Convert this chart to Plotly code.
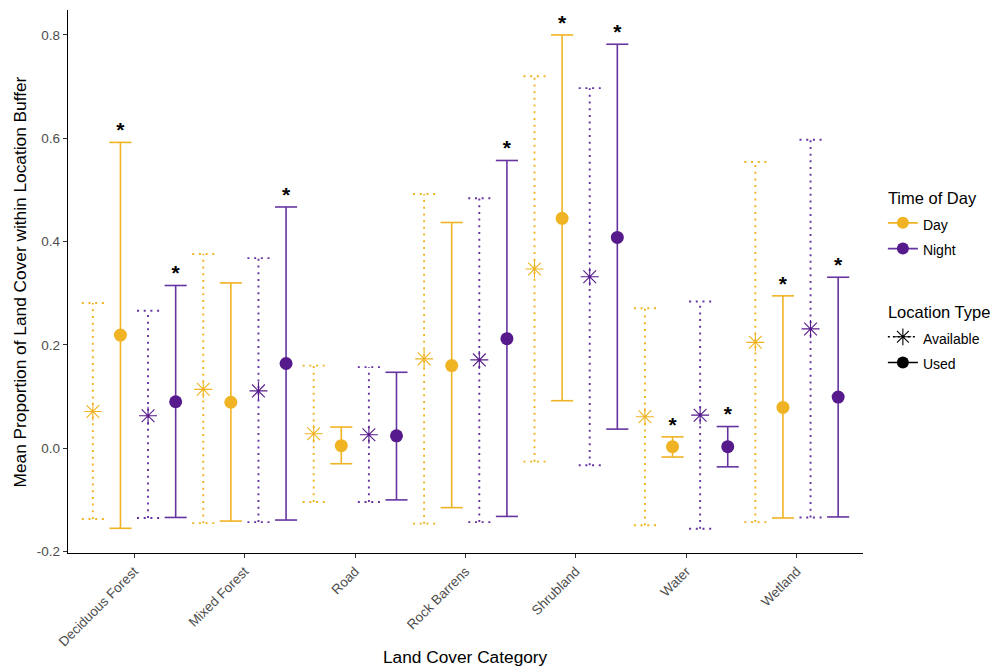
import plotly.graph_objects as go

categories = ["Deciduous Forest", "Mixed Forest", "Road", "Rock Barrens",
              "Shrubland", "Water", "Wetland"]

day_avail_mean = [0.071, 0.114, 0.028, 0.173, 0.347, 0.061, 0.205]
day_avail_low = [-0.137, -0.145, -0.104, -0.146, -0.026, -0.149, -0.143]
day_avail_high = [0.281, 0.376, 0.160, 0.492, 0.720, 0.271, 0.554]

day_used_mean = [0.219, 0.089, 0.005, 0.160, 0.445, 0.003, 0.079]
day_used_low = [-0.155, -0.141, -0.030, -0.115, 0.092, -0.017, -0.135]
day_used_high = [0.592, 0.320, 0.041, 0.437, 0.800, 0.022, 0.295]

night_avail_mean = [0.063, 0.111, 0.026, 0.171, 0.332, 0.064, 0.231]
night_avail_low = [-0.135, -0.143, -0.104, -0.143, -0.033, -0.156, -0.134]
night_avail_high = [0.266, 0.368, 0.157, 0.484, 0.697, 0.284, 0.597]

night_used_mean = [0.090, 0.164, 0.024, 0.212, 0.408, 0.003, 0.099]
night_used_low = [-0.134, -0.139, -0.100, -0.132, 0.037, -0.036, -0.133]
night_used_high = [0.315, 0.467, 0.147, 0.557, 0.782, 0.042, 0.331]

day_used_signif = [True, False, False, False, True, True, True]
night_used_signif = [True, True, False, True, True, True, True]

y_ticks = [-0.2, 0.0, 0.2, 0.4, 0.6, 0.8]

DAY_PT = "#F0B323"
DAY_LN = "#F0B323"
NIGHT_PT = "#561A8C"
NIGHT_LN = "#6634A0"

FONT = "Liberation Sans, Arial, sans-serif"
DOT = "2px,4.7px"

fig = go.Figure()

series = [
    ("avail", day_avail_mean, day_avail_low, day_avail_high, -0.375, DAY_PT, DAY_LN),
    ("used", day_used_mean, day_used_low, day_used_high, -0.125, DAY_PT, DAY_LN),
    ("avail", night_avail_mean, night_avail_low, night_avail_high, 0.125, NIGHT_PT, NIGHT_LN),
    ("used", night_used_mean, night_used_low, night_used_high, 0.375, NIGHT_PT, NIGHT_LN),
]

cap = 0.1
for kind, mean, low, high, off, pc, lc in series:
    xs, ys = [], []
    for i in range(len(categories)):
        x = i + off
        xs += [x, x, None, x - cap, x + cap, None, x - cap, x + cap, None]
        ys += [low[i], high[i], None, low[i], low[i], None, high[i], high[i], None]
    fig.add_trace(go.Scatter(
        x=xs, y=ys, mode="lines", showlegend=False, hoverinfo="skip",
        line=dict(color=lc, width=1.9 if kind == "avail" else 1.6,
                  dash=DOT if kind == "avail" else "solid"),
    ))
    px = [i + off for i in range(len(categories))]
    if kind == "avail":
        marker = dict(symbol="asterisk-open", size=15, color=pc,
                      line=dict(color=pc, width=1.1))
    else:
        marker = dict(symbol="circle", size=13, color=pc, line=dict(width=0))
    fig.add_trace(go.Scatter(x=px, y=mean, mode="markers", marker=marker,
                             showlegend=False))

# significance stars
for off, high, sig in [(-0.125, day_used_high, day_used_signif),
                       (0.375, night_used_high, night_used_signif)]:
    sx = [i + off for i in range(len(categories)) if sig[i]]
    sy = [high[i] for i in range(len(categories)) if sig[i]]
    fig.add_trace(go.Scatter(
        x=sx, y=sy, mode="text", text=["<b>*</b>"] * len(sx),
        textposition="top center", showlegend=False, hoverinfo="skip",
        textfont=dict(family=FONT, size=21, color="black"),
    ))


def lab(s):
    return f'<span style="font-size:14px">{s}</span>'


# legend entries
fig.add_trace(go.Scatter(x=[None], y=[None], mode="lines+markers", name=lab("Day"),
                         legendgroup="tod", legendgrouptitle_text="Time of Day",
                         line=dict(color=DAY_LN, width=1.6),
                         marker=dict(symbol="circle", size=12, color=DAY_PT)))
fig.add_trace(go.Scatter(x=[None], y=[None], mode="lines+markers", name=lab("Night"),
                         legendgroup="tod",
                         line=dict(color=NIGHT_LN, width=1.6),
                         marker=dict(symbol="circle", size=12, color=NIGHT_PT)))
fig.add_trace(go.Scatter(x=[None], y=[None], mode="lines+markers", name=lab("Available"),
                         legendgroup="loc", legendgrouptitle_text="Location Type",
                         line=dict(color="black", width=1.4, dash="2px,3px"),
                         marker=dict(symbol="asterisk-open", size=14, color="black",
                                     line=dict(color="black", width=1.1))))
fig.add_trace(go.Scatter(x=[None], y=[None], mode="lines+markers", name=lab("Used"),
                         legendgroup="loc",
                         line=dict(color="black", width=1.6),
                         marker=dict(symbol="circle", size=12, color="black")))

fig.update_layout(
    width=998, height=667,
    margin=dict(l=68, r=135, t=10, b=114, autoexpand=False),
    plot_bgcolor="white", paper_bgcolor="white",
    font=dict(family=FONT, color="black"),
    legend=dict(x=1.025, y=0.686, xanchor="left", yanchor="top",
                tracegroupgap=38, font=dict(size=17.5, color="black"),
                grouptitlefont=dict(size=16.5, color="black"),
                itemwidth=30, bgcolor="rgba(0,0,0,0)"),
    xaxis=dict(
        range=[-0.6, 6.6], tickmode="array",
        tickvals=list(range(len(categories))), ticktext=categories,
        tickangle=-45, ticks="outside", ticklen=4, tickcolor="#333333",
        tickfont=dict(size=13.5, color="#4D4D4D"),
        showline=True, linecolor="black", linewidth=1.4,
        showgrid=False, zeroline=False, automargin=False,
    ),
    yaxis=dict(
        range=[-0.2028, 0.8483], tickmode="array", tickvals=y_ticks,
        ticktext=[f"{v:.1f}" for v in y_ticks],
        ticks="outside", ticklen=4, tickcolor="#333333",
        tickfont=dict(size=13.5, color="#4D4D4D"),
        showline=True, linecolor="black", linewidth=1.4,
        showgrid=False, zeroline=False, automargin=False,
    ),
    annotations=[
        dict(text="Land Cover Category", xref="paper", yref="paper",
             x=0.5, y=-0.1915, xanchor="center", yanchor="middle",
             showarrow=False, font=dict(size=17.3, color="black")),
        dict(text="Mean Proportion of Land Cover within Location Buffer",
             xref="paper", yref="paper", x=-0.0604, y=0.5, textangle=-90,
             xanchor="center", yanchor="middle", showarrow=False,
             font=dict(size=17.3, color="black")),
    ],
)

fig.write_html("out.html",
               config={"displayModeBar": False},
               post_script="document.body.style.margin='0';"
                           "document.body.style.overflow='hidden';")
